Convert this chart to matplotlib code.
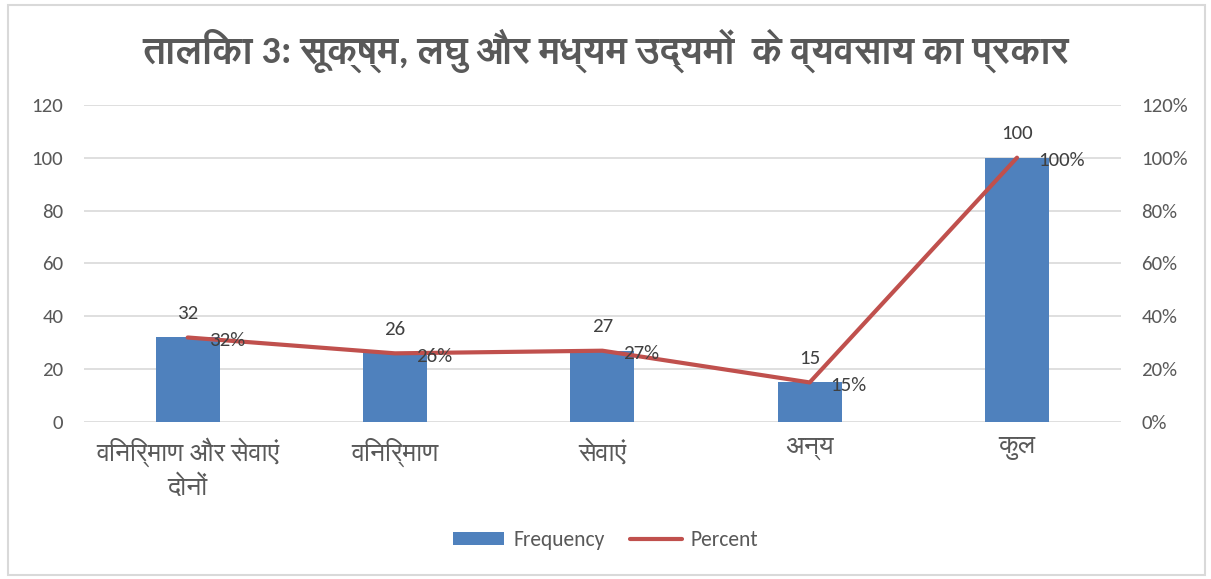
import matplotlib
matplotlib.use("Agg")
import matplotlib.pyplot as plt
from matplotlib import font_manager
from matplotlib.ft2font import FT2Font
from matplotlib.ticker import PercentFormatter
from matplotlib.patches import Rectangle

# data
categories = ["विनिर्माण और सेवाएं\nदोनों", "विनिर्माण", "सेवाएं", "अन्य", "कुल"]
frequency = [32, 26, 27, 15, 100]
percent = [32, 26, 27, 15, 100]
title = "तालिका 3: सूक्ष्म, लघु और मध्यम उद्यमों  के व्यवसाय का प्रकार"


# installed fonts that have Devanagari glyphs, sans faces first, mono last
def deva_fonts():
    found = []
    for f in font_manager.fontManager.ttflist:
        try:
            if ord("क") in FT2Font(f.fname).get_charmap():
                found.append(f.name)
        except Exception:
            pass
    found = sorted(set(found), key=lambda n: ("Mono" in n, "Sans" not in n, n))
    return found


installed = {f.name for f in font_manager.fontManager.ttflist}
latin = next((n for n in ["Carlito", "Lato", "Open Sans", "Noto Sans"] if n in installed),
             "DejaVu Sans")
deva = deva_fonts()
plt.rcParams["font.family"] = [latin] + deva[:1] + ["DejaVu Sans"]

txt = "#595959"
bar_col = "#4F81BD"
line_col = "#C0504D"

fig = plt.figure(figsize=(12.11, 5.79), dpi=100)
ax = fig.add_axes([0.0694, 0.271, 0.856, 0.548])
ax2 = ax.twinx()

x = list(range(len(categories)))
ax.bar(x, frequency, width=0.31, color=bar_col, label="Frequency", zorder=2)
ax2.plot(x, [p / 100 for p in percent], color=line_col, lw=3, label="Percent",
         solid_capstyle="round", zorder=3)

ax.set_xlim(-0.5, len(categories) - 0.5)
ax.set_ylim(0, 120)
ax.set_yticks(range(0, 121, 20))
ax2.set_ylim(0, 1.2)
ax2.set_yticks([i / 10 for i in range(0, 13, 2)])
ax2.yaxis.set_major_formatter(PercentFormatter(1.0, decimals=0))

ax.grid(axis="y", color="#D9D9D9", lw=1.2, zorder=0)
ax.set_axisbelow(True)
for a in (ax, ax2):
    for s in a.spines.values():
        s.set_visible(False)
    a.tick_params(length=0, labelsize=15, colors=txt)
ax.tick_params(axis="y", pad=15)
ax2.tick_params(axis="y", pad=15)
ax.set_xticks(x)
ax.set_xticklabels(categories, fontsize=19, color=txt, linespacing=1.35)
ax.tick_params(axis="x", pad=11)

# data labels
for xi, v in zip(x, frequency):
    ax.annotate(str(v), (xi, v), xytext=(0, 11), textcoords="offset points",
                ha="center", va="bottom", fontsize=15, color="#404040")
for xi, p in zip(x, percent):
    ax2.annotate(f"{p}%", (xi, p / 100), xytext=(15, -2), textcoords="offset points",
                 ha="left", va="center", fontsize=15, color="#404040")

fig.text(0.5, 0.913, title, ha="center", va="center", fontsize=27.5,
         fontweight="bold", color=txt)

h1, l1 = ax.get_legend_handles_labels()
h2, l2 = ax2.get_legend_handles_labels()
fig.legend(h1 + h2, l1 + l2, loc="center", bbox_to_anchor=(0.5, 0.067), ncol=2,
           frameon=False, fontsize=15.5, labelcolor=txt, handlelength=2.4,
           handleheight=0.55, columnspacing=1.2, handletextpad=0.4)

fig.patches.append(Rectangle((0.007, 0.007), 0.988, 0.985, transform=fig.transFigure,
                             fill=False, edgecolor="#D9D9D9", lw=1.5))

fig.savefig("out.png", dpi=100, facecolor="white")
